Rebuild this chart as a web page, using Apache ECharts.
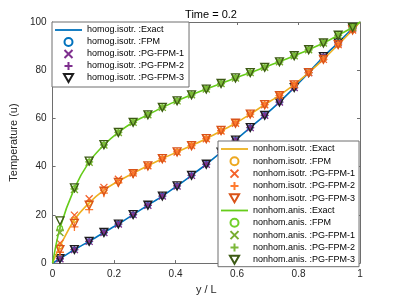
<!DOCTYPE html>
<html>
<head>
<meta charset="utf-8">
<script src="https://cdn.jsdelivr.net/npm/echarts@6/dist/echarts.min.js"></script>
<style>html,body{margin:0;padding:0;background:#fff}#c{width:399px;height:300px}</style>
</head>
<body>
<div id="c"></div>
<script>
// ---- data ----
const title = 'Time = 0.2';
const xTicks = [0, 0.2, 0.4, 0.6, 0.8, 1];
const yTicks = [0, 20, 40, 60, 80, 100];
// marker positions (cell centres)
const xm = [0.024, 0.071, 0.119, 0.167, 0.214, 0.262, 0.310, 0.357, 0.405, 0.452, 0.500,
            0.548, 0.595, 0.643, 0.690, 0.738, 0.786, 0.833, 0.881, 0.929, 0.976];
// exact curves (x = 0, markers, 1)
const xe = [0].concat(xm).concat([1]);
const homogExact   = [0, 1.8, 5.6, 9.0, 12.7, 16.2, 20.1, 24.0, 27.8, 32.0, 36.4, 41.0, 46.0, 51.0, 56.2, 61.3, 66.8, 72.8, 79.0, 85.6, 91.4, 97.4, 100];
const isotrExact   = [0, 7.0, 18.0, 25.0, 30.3, 34.0, 37.3, 40.4, 43.3, 46.1, 48.8, 51.6, 54.8, 58.0, 61.8, 65.7, 69.6, 74.0, 79.0, 84.5, 90.6, 96.7, 100];
const anisExact    = [0, 14.5, 31.0, 42.0, 49.0, 54.2, 58.4, 61.5, 64.6, 67.3, 69.8, 72.2, 74.5, 76.8, 79.0, 81.2, 83.5, 86.0, 88.5, 91.3, 94.5, 97.8, 100];
// numerical results at markers
const homogFPM  = [1.8, 5.6, 9.0, 12.7, 16.2, 20.1, 24.0, 27.8, 32.0, 36.4, 41.0, 46.0, 51.0, 56.2, 61.3, 66.8, 72.8, 79.0, 85.6, 91.4, 97.4];
const homogPG1  = [1.8, 5.6, 9.0, 12.7, 16.2, 20.1, 24.0, 27.8, 32.0, 36.4, 41.0, 46.0, 51.0, 56.2, 61.3, 66.8, 72.8, 79.0, 85.6, 91.4, 97.4];
const homogPG2  = [1.8, 5.6, 9.0, 12.7, 16.2, 20.1, 24.0, 27.8, 32.0, 36.4, 41.0, 46.0, 51.0, 56.2, 61.3, 66.8, 72.8, 79.0, 85.6, 91.4, 97.4];
const homogPG3  = [1.8, 5.6, 9.0, 12.7, 16.2, 20.1, 24.0, 27.8, 32.0, 36.4, 41.0, 46.0, 51.0, 56.2, 61.3, 66.8, 72.8, 79.0, 85.6, 91.4, 97.4];
const isotrFPM  = [7.0, 18.0, 25.0, 30.3, 34.0, 37.3, 40.4, 43.3, 46.1, 48.8, 51.6, 54.8, 58.0, 61.8, 65.7, 69.6, 74.0, 79.0, 84.5, 90.6, 96.7];
const isotrPG1  = [8.3, 19.9, 26.7, 31.4, 34.8, 37.4, 40.4, 43.3, 46.1, 48.8, 51.6, 54.8, 58.0, 61.8, 65.7, 69.6, 74.0, 79.0, 84.5, 90.6, 96.7];
const isotrPG2  = [4.5, 15.0, 22.2, 29.0, 33.3, 37.0, 40.3, 43.3, 46.1, 48.7, 51.6, 54.9, 58.0, 61.8, 65.7, 69.5, 73.9, 79.0, 84.5, 90.6, 96.7];
const isotrPG3  = [5.6, 16.5, 24.0, 29.8, 33.5, 37.1, 40.3, 43.3, 46.1, 48.7, 51.6, 55.0, 58.0, 61.8, 65.7, 69.5, 73.9, 79.0, 84.5, 90.6, 96.7];
const anisFPM   = [14.5, 31.0, 42.0, 49.0, 54.2, 58.4, 61.5, 64.6, 67.3, 69.8, 72.2, 74.5, 76.8, 79.0, 81.2, 83.5, 86.0, 88.5, 91.3, 94.5, 97.8];
const anisPG1   = [12.7, 30.5, 41.8, 49.0, 54.2, 58.4, 61.5, 64.6, 67.3, 69.8, 72.2, 74.5, 76.8, 79.0, 81.2, 83.5, 86.0, 88.5, 91.3, 94.5, 97.8];
const anisPG2   = [13.5, 30.8, 42.0, 49.0, 54.2, 58.4, 61.5, 64.6, 67.3, 69.8, 72.2, 74.5, 76.8, 79.0, 81.2, 83.5, 86.0, 88.5, 91.3, 94.5, 97.8];
const anisPG3   = [17.5, 31.2, 42.3, 49.1, 54.2, 58.4, 61.5, 64.6, 67.3, 69.8, 72.2, 74.5, 76.8, 79.0, 81.2, 83.5, 86.0, 88.5, 91.3, 94.5, 97.8];
const groups = ['homog.isotr.', 'nonhom.isotr.', 'nonhom.anis.'];
const methods = ['Exact', 'FPM', 'PG-FPM-1', 'PG-FPM-2', 'PG-FPM-3'];

// ---- styles ----
const SYM = {
  FPM: 'circle',
  'PG-FPM-1': 'path://M0,0L8,8M8,0L0,8',
  'PG-FPM-2': 'path://M4,0L4,8M0,4L8,4',
  'PG-FPM-3': 'path://M0,0L8,0L4,7Z'
};
const SYMSIZE = { FPM: 5, 'PG-FPM-1': 7, 'PG-FPM-2': 8, 'PG-FPM-3': 8 };
const COL = [
  { Exact: '#0072BD', FPM: '#0072BD', 'PG-FPM-1': '#7E2F8E', 'PG-FPM-2': '#7E2F8E', 'PG-FPM-3': '#1e1e1e' },
  { Exact: '#EDB120', FPM: '#EDA820', 'PG-FPM-1': '#F4622A', 'PG-FPM-2': '#FF7A2E', 'PG-FPM-3': '#D95319' },
  { Exact: '#66CC1A', FPM: '#70D02A', 'PG-FPM-1': '#77AC30', 'PG-FPM-2': '#7CB83A', 'PG-FPM-3': '#3C5A14' }
];
const exactData = [homogExact, isotrExact, anisExact];
const numData = [
  [homogFPM, homogPG1, homogPG2, homogPG3],
  [isotrFPM, isotrPG1, isotrPG2, isotrPG3],
  [anisFPM, anisPG1, anisPG2, anisPG3]
];

const LINE_ICON = 'path://M0,0L27,0L27,1.8L0,1.8Z';
const series = [];
const legendData = [[], []];
groups.forEach((g, gi) => {
  methods.forEach((m, mi) => {
    const name = g + ' :' + m;
    const c = COL[gi][m];
    const L = legendData[gi === 0 ? 0 : 1];
    if (m === 'Exact') {
      L.push({ name, icon: LINE_ICON, itemStyle: { color: c, borderWidth: 0 } });
      series.push({
        name, type: 'line', xAxisIndex: 0, yAxisIndex: 0,
        data: xe.map((x, i) => [x, exactData[gi][i]]),
        symbol: 'none', showSymbol: false, smooth: 0.3,
        lineStyle: { color: c, width: 1.6 }, itemStyle: { color: c },
        z: 2 + gi * 5, animation: false
      });
    } else {
      L.push({ name });
      const arr = numData[gi][mi - 1];
      series.push({
        name, type: 'scatter', xAxisIndex: 0, yAxisIndex: 0,
        data: xm.map((x, i) => [x, arr[i]]),
        symbol: SYM[m], symbolSize: SYMSIZE[m],
        itemStyle: { color: 'rgba(0,0,0,0)', borderColor: c, borderWidth: m === 'FPM' ? 1.4 : 1.3, opacity: 1 },
        z: 2 + gi * 5 + mi, animation: false
      });
    }
  });
});

const axisCol = '#6e6e6e';
const font = 'Liberation Sans, Arial, Helvetica, sans-serif';
const chart = echarts.init(document.getElementById('c'), null, { renderer: 'canvas' });
chart.setOption({
  animation: false,
  backgroundColor: '#fff',
  textStyle: { fontFamily: font },
  title: {
    text: title, left: 206, top: 4, textAlign: 'center',
    textStyle: { fontSize: 11, fontWeight: 'normal', color: '#000', fontFamily: font }
  },
  grid: { left: 52, right: 39, top: 22, bottom: 33, containLabel: false },
  xAxis: [
    {
      type: 'value', min: 0, max: 1, interval: 0.2, position: 'bottom',
      name: 'y / L', nameLocation: 'middle', nameGap: 20,
      nameTextStyle: { fontSize: 11, color: '#262626', fontFamily: font },
      axisLine: { show: true, lineStyle: { color: axisCol, width: 1 } },
      axisTick: { show: true, inside: true, length: 3, lineStyle: { color: axisCol } },
      axisLabel: { fontSize: 10, color: '#262626', margin: 6, fontFamily: font,
        formatter: v => xTicks.includes(+v.toFixed(1)) ? String(+v.toFixed(1)) : '' },
      splitLine: { show: false }
    },
    {
      type: 'value', min: 0, max: 1, interval: 0.2, position: 'top',
      axisLine: { show: true, onZero: false, lineStyle: { color: axisCol, width: 1 } },
      axisTick: { show: true, inside: true, length: 3, lineStyle: { color: axisCol } },
      axisLabel: { show: false }, splitLine: { show: false }
    }
  ],
  yAxis: [
    {
      type: 'value', min: 0, max: 100, interval: 20, position: 'left',
      name: 'Temperature (u)', nameLocation: 'middle', nameGap: 27,
      nameTextStyle: { fontSize: 11, color: '#262626', fontFamily: font },
      axisLine: { show: true, lineStyle: { color: axisCol, width: 1 } },
      axisTick: { show: true, inside: true, length: 3, lineStyle: { color: axisCol } },
      axisLabel: { fontSize: 10, color: '#262626', margin: 6, fontFamily: font,
        formatter: v => yTicks.includes(v) ? String(v) : '' },
      splitLine: { show: false }
    },
    {
      type: 'value', min: 0, max: 100, interval: 20, position: 'right',
      axisLine: { show: true, onZero: false, lineStyle: { color: axisCol, width: 1 } },
      axisTick: { show: true, inside: true, length: 3, lineStyle: { color: axisCol } },
      axisLabel: { show: false }, splitLine: { show: false }
    }
  ],
  legend: [
    {
      data: legendData[0], orient: 'vertical', left: 52, top: 22,
      padding: [3, 5, 4, 3], itemGap: 2, itemWidth: 27, itemHeight: 8,
      backgroundColor: '#fff', borderColor: axisCol, borderWidth: 1, borderRadius: 0,
      textStyle: { fontSize: 9, color: '#000', lineHeight: 10, fontFamily: font },
      selectedMode: false, z: 20
    },
    {
      data: legendData[1], orient: 'vertical', left: 218, top: 141,
      padding: [3, 4, 2, 3], itemGap: 2.3, itemWidth: 27, itemHeight: 8,
      backgroundColor: '#fff', borderColor: axisCol, borderWidth: 1, borderRadius: 0,
      textStyle: { fontSize: 9, color: '#000', lineHeight: 10, fontFamily: font },
      selectedMode: false, z: 20
    }
  ],
  series
});
</script>
</body>
</html>
